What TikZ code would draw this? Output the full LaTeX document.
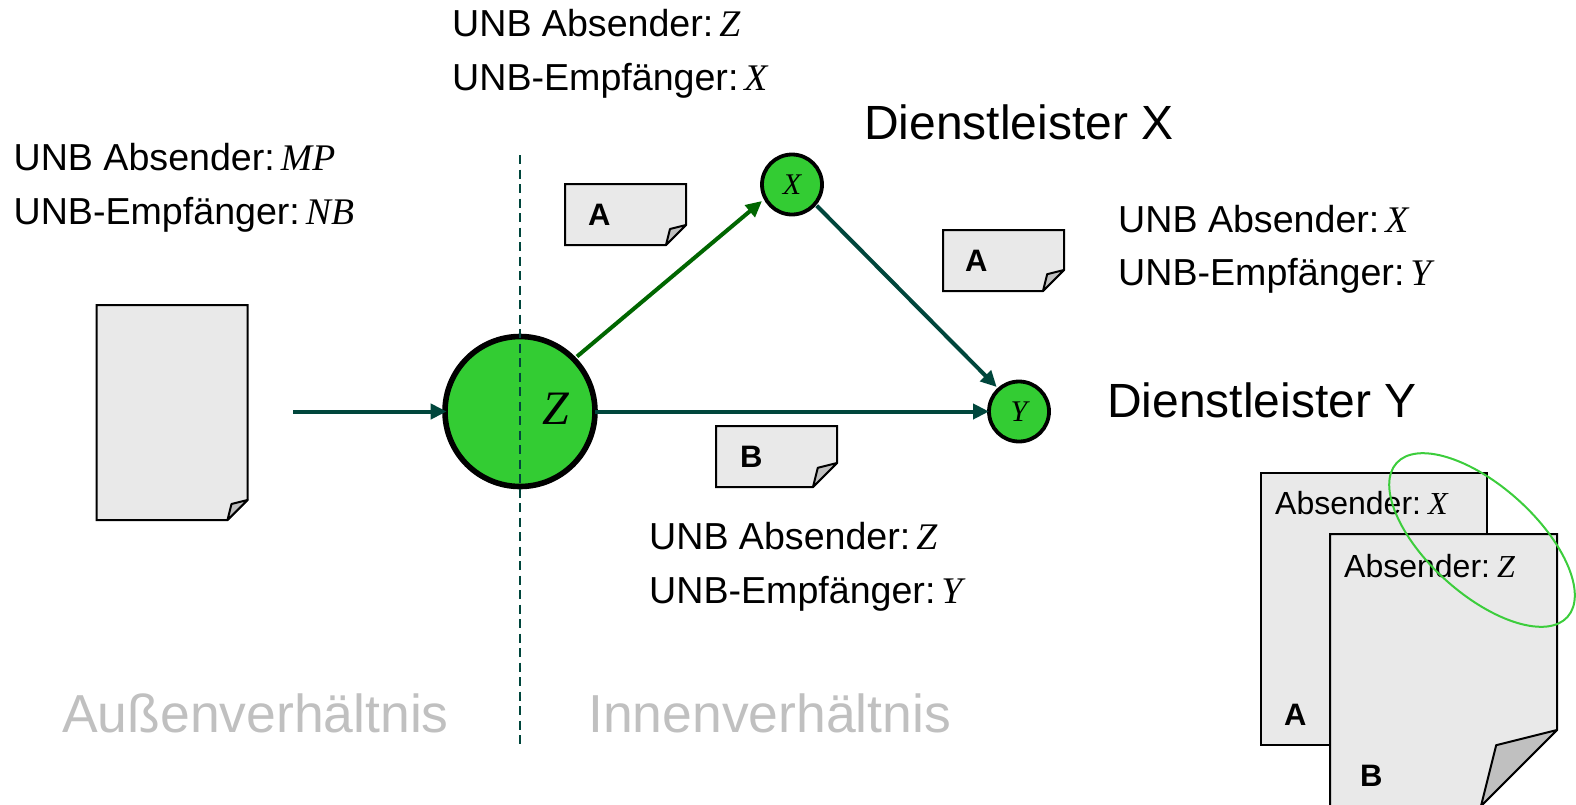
\documentclass[tikz,border=0pt]{standalone}
\usepackage{fontspec}
\setmainfont{Liberation Sans}
\newfontfamily\serfont{Liberation Serif}
\usetikzlibrary{arrows.meta,shapes.geometric}
\definecolor{pagefill}{RGB}{233,233,233}
\definecolor{foldfill}{RGB}{192,192,192}
\definecolor{nodegreen}{RGB}{51,204,51}
\definecolor{teal}{RGB}{0,70,60}
\definecolor{darkgr}{RGB}{0,102,0}
\definecolor{lightgr}{RGB}{192,192,192}
\newcommand{\mv}[1]{{\serfont\itshape #1}}
% x0 y0 x1 y1 fold linewidth
\newcommand{\docpage}[6]{%
  \draw[line width=#6pt,fill=pagefill,line join=miter]
    (#1,#2) -- (#3,#2) -- (#3,#4-#5) -- (#3-#5,#4) -- (#1,#4) -- cycle;
  \draw[line width=#6pt,fill=foldfill,line join=round]
    (#3,#4-#5) -- (#3-0.8*#5,#4-0.8*#5) -- (#3-#5,#4) -- cycle;}
\tikzset{
  x=1pt,y=-1pt,
  lab/.style={anchor=base west,inner sep=0pt,font=\fontsize{37.6}{37.6}\selectfont},
  big/.style={anchor=base west,inner sep=0pt,font=\fontsize{48}{48}\selectfont},
  zone/.style={anchor=base west,inner sep=0pt,text=lightgr,font=\fontsize{53.5}{53.5}\selectfont},
  small/.style={anchor=base west,inner sep=0pt,font=\fontsize{32}{32}\selectfont},
  let/.style={anchor=base west,inner sep=0pt,font=\fontsize{31}{31}\selectfont\bfseries},
  conn/.style={line width=4pt,draw=teal,-{Triangle[length=16pt,width=15pt]}},
  hub/.style={circle,draw=black,fill=nodegreen,inner sep=0pt,outer sep=0pt},
}
\begin{document}
\begin{tikzpicture}
\useasboundingbox (0,0) rectangle (1576,804);
% pages
\docpage{96.5}{305}{247.5}{520}{20}{2}
\docpage{565}{184}{686}{245}{20}{2}
\docpage{943}{230}{1064}{291}{21}{2}
\docpage{716}{426}{837}{487}{24}{2}
\docpage{1260.5}{472.5}{1487}{744.5}{0}{2}
\docpage{1330}{534}{1557}{806}{76}{2}
% hubs
\node[hub,line width=5.6pt,minimum size=150pt] (Z) at (520,411.5) {};
\node[hub,line width=3.8pt,minimum size=60pt] (X) at (792,184.5) {\fontsize{30}{30}\selectfont\mv{X}};
\node[hub,line width=3.8pt,minimum size=60pt] (Y) at (1019,411.5) {\fontsize{30}{30}\selectfont\mv{Y}};
\node[anchor=base,inner sep=0pt,font=\fontsize{48}{48}\selectfont] (zl) at (555.5,424) {\mv{Z}};
% connectors
\coordinate (src) at (293,411.5);
\path (Z.center) ++(57,-55) coordinate (zout);
\path (X.center) ++(-30,16.5) coordinate (xin);
\path (X.center) ++(24.7,21.2) coordinate (xout);
\path (Y.center) ++(-22.3,-24.5) coordinate (yin);
\draw[conn,shorten >=-1.7pt] (src) -- (Z);
\draw[conn,draw=darkgr] (zout) -- (xin);
\draw[conn] (Z) -- (Y);
\draw[conn] (xout) -- (yin);
% divider
\coordinate (d1) at (520,155);
\coordinate (d2) at (520,745);
\draw[teal,line width=2.7pt,dash pattern=on 9pt off 5.5pt] (d1) -- (d2);
% labels
\node[lab] (t1a) at (452,36) {UNB Absender:\hspace{6pt}\mv{Z}};
\node[lab] (t1b) at (452,90) {UNB-Empfänger:\hspace{6pt}\mv{X}};
\node[lab] (t2a) at (13.5,170) {UNB Absender:\hspace{6pt}\mv{MP}};
\node[lab] (t2b) at (13.5,224) {UNB-Empfänger:\hspace{6pt}\mv{NB}};
\node[lab] (t3a) at (1118,232) {UNB Absender:\hspace{6pt}\mv{X}};
\node[lab] (t3b) at (1118,285) {UNB-Empfänger:\hspace{6pt}\mv{Y}};
\node[lab] (t4a) at (649,549) {UNB Absender:\hspace{6pt}\mv{Z}};
\node[lab] (t4b) at (649,603) {UNB-Empfänger:\hspace{6pt}\mv{Y}};
\node[big] (dx) at (864,139) {Dienstleister X};
\node[big] (dy) at (1107,417) {Dienstleister Y};
\node[zone] (za) at (62,732) {Außenverhältnis};
\node[zone] (zi) at (588,732) {Innenverhältnis};
\node[let] (l1) at (588,225) {A};
\node[let] (l2) at (965,271) {A};
\node[let] (l3) at (740,467) {B};
\node[let] (l4) at (1284,725) {A};
\node[let] (l5) at (1360,786) {B};
\node[small] (s1) at (1275,514) {Absender:\hspace{7pt}\mv{X}};
\node[small] (s2) at (1344,577) {Absender:\hspace{7pt}\mv{Z}};
\node[ellipse,draw={rgb,255:red,60;green,205;blue,60},line width=2pt,minimum width=230pt,minimum height=108pt,inner sep=0pt,rotate=-42] (oval) at (1482,540) {};
\end{tikzpicture}
\end{document}
